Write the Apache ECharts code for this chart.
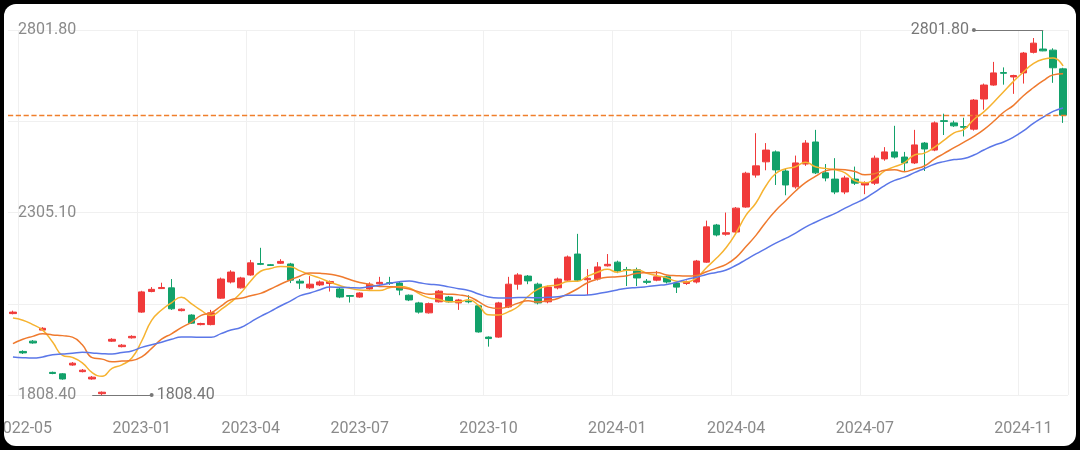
<!DOCTYPE html>
<html><head><meta charset="utf-8">
<script src="https://cdn.jsdelivr.net/npm/echarts@6/dist/echarts.min.js"></script>
<style>
html,body{margin:0;padding:0;background:#000;width:1080px;height:450px;overflow:hidden}
#frame{position:absolute;left:4px;top:4px;width:1072px;height:442px;background:#fff;border-radius:12px;overflow:hidden}
#c{position:absolute;left:-4px;top:-4px;width:1080px;height:450px}
</style></head>
<body><div id="frame"><div id="c"></div></div>
<script>
// [open, close, low, high]
const opens  = [2030,1927,1955,1985,1870,1866,1890,1872,1852,1812,1955,1940,1964,2034,2090,2098,2100,2038,2026,2000,2000,2072,2116,2100,2135,2166,2163,2167,2165,2118,2100,2108,2112,2097,2079,2075,2097,2111,2114,2113,2080,2059,2032,2062,2075,2059,2064,2051,1966,1966,2048,2110,2132,2110,2062,2100,2121,2192,2122,2124,2160,2170,2150,2149,2118,2121,2130,2113,2112,2116,2170,2271,2246,2252,2320,2407,2443,2470,2418,2375,2437,2497,2413,2396,2361,2396,2380,2385,2451,2470,2456,2440,2494,2475,2555,2549,2539,2532,2614,2652,2686,2674,2685,2741,2750,2747,2696];
const closes = [2034,1923,1950,1990,1867,1852,1895,1876,1857,1816,1960,1944,1968,2089,2096,2101,2043,2042,2004,2003,2032,2124,2143,2127,2168,2164,2161,2172,2121,2113,2110,2116,2117,2075,2077,2086,2110,2115,2112,2094,2067,2034,2057,2091,2062,2067,2062,1980,1962,2059,2110,2135,2119,2059,2102,2124,2184,2121,2126,2157,2164,2146,2148,2127,2115,2130,2116,2102,2117,2173,2266,2244,2250,2317,2412,2432,2475,2421,2380,2440,2494,2413,2399,2361,2399,2385,2385,2453,2470,2456,2440,2489,2478,2549,2553,2541,2537,2611,2652,2685,2684,2678,2739,2766,2745,2699,2570];
const highs  = [2038,1930,1958,1993,1872,1868,1898,1879,1860,1818,1963,1947,1971,2092,2102,2114,2124,2044,2028,2005,2040,2128,2148,2130,2176,2209,2165,2178,2168,2124,2132,2120,2120,2100,2080,2088,2115,2130,2130,2118,2082,2062,2060,2094,2078,2070,2080,2053,1968,2062,2130,2140,2135,2114,2106,2128,2188,2247,2151,2170,2192,2174,2157,2155,2124,2146,2133,2116,2120,2176,2283,2274,2305,2320,2416,2521,2494,2474,2425,2460,2502,2530,2437,2453,2405,2430,2390,2460,2483,2541,2470,2530,2497,2553,2574,2555,2563,2614,2656,2715,2700,2680,2742,2780,2801.8,2752,2699];
const lows   = [2028,1920,1948,1983,1865,1850,1888,1870,1850,1808.4,1953,1938,1962,2032,2088,2097,2040,2036,2002,1998,1998,2070,2112,2098,2133,2162,2160,2165,2113,2097,2097,2105,2090,2072,2060,2073,2095,2109,2108,2080,2064,2030,2030,2060,2060,2040,2058,1978,1940,1964,2045,2095,2110,2055,2058,2096,2118,2116,2080,2120,2158,2140,2105,2105,2110,2118,2112,2086,2108,2112,2168,2240,2242,2248,2318,2400,2420,2380,2352,2370,2432,2410,2390,2355,2355,2380,2355,2380,2446,2452,2418,2437,2418,2472,2516,2538,2512,2528,2585,2650,2653,2628,2656,2738,2744,2658,2549];
// moving-average values at the left edge (earlier weeks are off-screen)
const ma5Head  = [2018,2012,2000,1985];
const ma10Head = [1948,1960,1968,1975,1972,1970,1966,1945,1910];
const ma20Head = [1912,1910,1909,1912,1918,1920,1922,1925,1923,1921,1920,1924,1928,1938,1945,1952,1960,1966,1966];
// x tick labels: category index -> text
const xTickIdx  = [1,13,24,35,48,61,73,86,102];
const xTickText = ['2022-05','2023-01','2023-04','2023-07','2023-10','2024-01','2024-04','2024-07','2024-11'];
const yMin = 1808.4, yMax = 2801.8;

const cats = opens.map((_,i)=>'W'+i);
const kdata = opens.map((o,i)=>[o,closes[i],lows[i],highs[i]]);
function ma(n, head){
  return closes.map((_,i)=>{
    if(i < n-1) return head[i];
    let s=0; for(let j=i-n+1;j<=i;j++) s+=closes[j];
    return +(s/n).toFixed(2);
  });
}
const maxIdx = highs.indexOf(Math.max(...highs));
const minIdx = lows.indexOf(Math.min(...lows));
const tickMap = {}; xTickIdx.forEach((k,i)=>tickMap[k]=xTickText[i]);
const step = (yMax-yMin)/4;

const chart = echarts.init(document.getElementById('c'));
chart.setOption({
  animation:false,
  grid:{left:8,right:12,top:30,bottom:55,outerBoundsMode:'none',containLabel:false},
  xAxis:{type:'category',data:cats,boundaryGap:true,
    axisLine:{show:false},axisTick:{show:false},
    axisLabel:{interval:(i)=>tickMap[i]!==undefined,formatter:(v,i)=>tickMap[i]||'',color:'#8a8a8a',fontSize:16,margin:26,fontFamily:'Roboto'},
    splitLine:{show:true,interval:(i)=>tickMap[i]!==undefined,lineStyle:{color:'#f0f0f0'}}},
  yAxis:{type:'value',min:yMin,max:yMax,interval:step,scale:true,
    axisLine:{show:false},axisTick:{show:false},
    axisLabel:{inside:true,margin:10,color:'#8a8a8a',fontSize:16,fontFamily:'Roboto',
      formatter:(v)=>{const k=Math.round((v-yMin)/step);return (k%2===0)?v.toFixed(2):'';}},
    splitLine:{lineStyle:{color:'#f0f0f0'}}},
  series:[
    {type:'candlestick',data:kdata,barWidth:7,
     itemStyle:{color:'#f03a3a',color0:'#12a16a',borderColor:'#f03a3a',borderColor0:'#12a16a'},
     markLine:{silent:true,symbol:'none',animation:false,
       data:[
        [{coord:[cats[maxIdx-7],yMax],symbol:'circle',symbolSize:4,
          label:{show:true,position:'start',formatter:yMax.toFixed(2),color:'#777',fontSize:16,fontFamily:'Roboto'}},
         {coord:[cats[maxIdx],yMax],symbol:'none'}],
        [{coord:[cats[minIdx-1],yMin],symbol:'none'},
         {coord:[cats[minIdx+5],yMin],symbol:'circle',symbolSize:4,
          label:{show:true,position:'end',formatter:yMin.toFixed(2),color:'#777',fontSize:16,fontFamily:'Roboto'}}],
        {yAxis:closes[closes.length-1],lineStyle:{color:'#f07f2c',type:'dashed',width:1.3},label:{show:false}}
       ],
       lineStyle:{color:'#777',type:'solid',width:1}}},
    {type:'line',data:ma(5,ma5Head),showSymbol:false,smooth:true,lineStyle:{color:'#f6b330',width:1.5},z:3},
    {type:'line',data:ma(10,ma10Head),showSymbol:false,smooth:true,lineStyle:{color:'#ef7a2e',width:1.5},z:3},
    {type:'line',data:ma(20,ma20Head),showSymbol:false,smooth:true,lineStyle:{color:'#5b77e8',width:1.5},z:3}
  ]
});
</script></body></html>
